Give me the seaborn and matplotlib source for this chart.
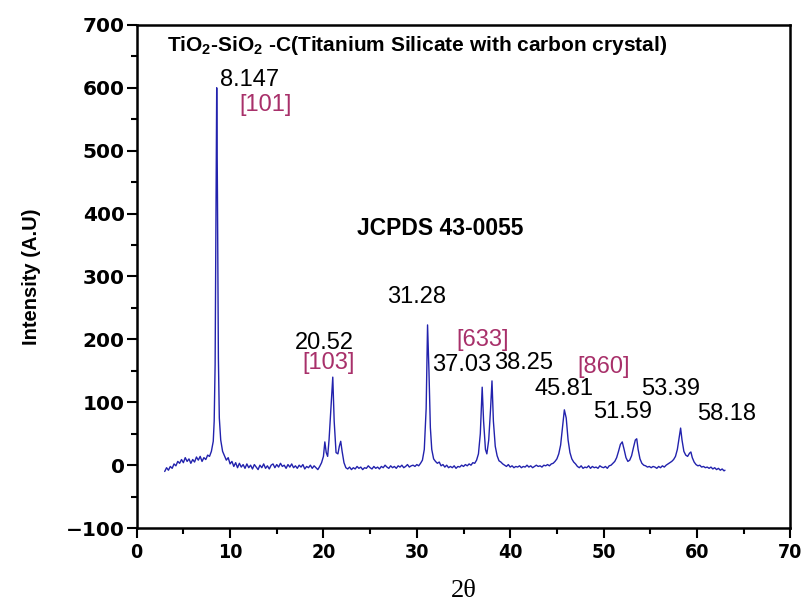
import matplotlib
matplotlib.use("Agg")
import matplotlib.pyplot as plt
import pandas as pd
import seaborn as sns
from matplotlib.ticker import MultipleLocator

# ---------------- data ----------------
two_theta = [
    3.0, 3.2, 3.4, 3.6, 3.8, 4.0, 4.2, 4.4, 4.6, 4.8, 5.0, 5.2, 5.4, 5.6, 5.8,
    6.0, 6.2, 6.4, 6.6, 6.8, 7.0, 7.2, 7.4, 7.6, 7.8, 8.0, 8.2, 8.3, 8.4, 8.5,
    8.57, 8.65, 8.75, 8.85, 9.0, 9.2, 9.4, 9.6, 9.8, 10.0, 10.2, 10.4, 10.6,
    10.8, 11.0, 11.2, 11.4, 11.6, 11.8, 12.0, 12.2, 12.4, 12.6, 12.8, 13.0,
    13.2, 13.4, 13.6, 13.8, 14.0, 14.2, 14.4, 14.6, 14.8, 15.0, 15.2, 15.4,
    15.6, 15.8, 16.0, 16.2, 16.4, 16.6, 16.8, 17.0, 17.2, 17.4, 17.6, 17.8,
    18.0, 18.2, 18.4, 18.6, 18.8, 19.0, 19.2, 19.4, 19.6, 19.8, 20.0, 20.15,
    20.3, 20.45, 20.6, 20.8, 21.0, 21.15, 21.35, 21.55, 21.7, 21.85, 22.0,
    22.2, 22.4, 22.6, 22.8, 23.0, 23.2, 23.4, 23.6, 23.8, 24.0, 24.2, 24.4,
    24.6, 24.8, 25.0, 25.2, 25.4, 25.6, 25.8, 26.0, 26.2, 26.4, 26.6, 26.8,
    27.0, 27.2, 27.4, 27.6, 27.8, 28.0, 28.2, 28.4, 28.6, 28.8, 29.0, 29.2,
    29.4, 29.6, 29.8, 30.0, 30.2, 30.4, 30.6, 30.8, 31.0, 31.15, 31.3, 31.45,
    31.6, 31.8, 32.0, 32.2, 32.4, 32.6, 32.8, 33.0, 33.2, 33.4, 33.6, 33.8,
    34.0, 34.2, 34.4, 34.6, 34.8, 35.0, 35.2, 35.4, 35.6, 35.8, 36.0, 36.2,
    36.4, 36.6, 36.8, 37.0, 37.15, 37.35, 37.5, 37.7, 37.9, 38.05, 38.2, 38.4,
    38.6, 38.8, 39.0, 39.2, 39.4, 39.6, 39.8, 40.0, 40.2, 40.4, 40.6, 40.8,
    41.0, 41.2, 41.4, 41.6, 41.8, 42.0, 42.2, 42.4, 42.6, 42.8, 43.0, 43.2,
    43.4, 43.6, 43.8, 44.0, 44.2, 44.4, 44.6, 44.8, 45.0, 45.2, 45.4, 45.6,
    45.8, 46.0, 46.2, 46.4, 46.6, 46.8, 47.0, 47.2, 47.4, 47.6, 47.8, 48.0,
    48.2, 48.4, 48.6, 48.8, 49.0, 49.2, 49.4, 49.6, 49.8, 50.0, 50.2, 50.4,
    50.6, 50.8, 51.0, 51.2, 51.4, 51.6, 51.8, 52.0, 52.2, 52.4, 52.6, 52.8,
    53.0, 53.2, 53.4, 53.55, 53.7, 53.9, 54.1, 54.3, 54.5, 54.7, 54.9, 55.1,
    55.3, 55.5, 55.7, 55.9, 56.1, 56.3, 56.5, 56.7, 56.9, 57.1, 57.3, 57.5,
    57.7, 57.9, 58.1, 58.25, 58.4, 58.6, 58.8, 59.0, 59.2, 59.35, 59.5, 59.7,
    59.9, 60.1, 60.3, 60.5, 60.7, 60.9, 61.1, 61.3, 61.5, 61.7, 61.9, 62.1,
    62.3, 62.5, 62.7, 62.9, 63.0,
]
intensity = [
    -10, -4, -8, -2, -5, 2, -1, 6, 3, 9, 4, 12, 6, 10, 3,
    9, 5, 13, 8, 14, 6, 12, 9, 16, 14, 22, 38, 70, 160, 420,
    600, 430, 170, 75, 40, 22, 15, 8, 12, 2, 6, -2, 4,
    -4, 3, -3, 1, -5, 2, -4, 0, -6, 1, -3, -7,
    0, -4, 2, -5, -1, -6, 0, 2, -4, 1, -3, 3,
    -2, 0, -5, 1, -3, 2, -4, -1, -5, 0, -3, 1,
    -6, -2, -4, 0, -5, -1, -4, -7, -2, 4, 14, 37,
    20, 14, 40, 90, 140, 70, 20, 18, 30, 38, 22,
    4, -4, -6, -3, -7, -4, -6, -2, -5, -3, -7, -4,
    -5, -1, -4, -6, -2, -5, -3, -6, -2, -4, 0, -3,
    -5, -1, -4, -2, -5, -1, -3, 0, -4, -2, 1, -3,
    -1, 0, -2, 1, -1, 3, 8, 25, 90, 223, 150, 60,
    25, 10, 6, 3, 5, -1, 1, -3, 0, -4, -2, -4,
    -1, -5, -2, -3, 0, -2, 1, -1, 2, 0, 4, 3,
    8, 18, 50, 124, 70, 25, 18, 40, 90, 134, 70, 30,
    15, 7, 5, 2, 0, -2, 1, -3, -1, -4, -2, -3,
    -1, -4, -2, -3, 0, -3, -1, -4, -2, 0, -2, -1,
    -3, 0, -1, 1, -1, 2, 3, 6, 10, 18, 32, 60,
    88, 75, 40, 20, 10, 5, 2, -2, -4, -1, -5, -3,
    -4, -1, -5, -2, -4, -3, -5, -1, -3, -4, -2, -5,
    -1, 0, 3, 6, 12, 22, 33, 37, 25, 12, 6, 8,
    15, 28, 40, 42, 25, 10, 3, 0, -1, -3, -2, -4,
    -2, -3, -5, -2, -4, -1, -3, 0, 2, 4, 6, 9,
    14, 25, 45, 59, 40, 22, 16, 14, 19, 21, 12, 5,
    1, -1, 0, -3, -2, -4, -3, -5, -3, -6, -4, -7,
    -5, -8, -6, -9, -8,
]

peak_labels = ["8.147", "20.52", "31.28", "37.03", "38.25",
               "45.81", "51.59", "53.39", "58.18"]
plane_labels = ["[101]", "[103]", "[633]", "[860]"]
title_text = (r"TiO$_{\mathbf{2}}$-SiO$_{\mathbf{2}}$ -C(Titanium Silicate "
              r"with carbon crystal)")
ref_text = "JCPDS 43-0055"
x_label = "2θ"
y_label = "Intensity (A.U)"

# ---------------- layout ----------------
peak_pos = [(8.9, 612, "left"), (20.15, 194, "center"), (30.0, 267, "center"),
            (34.8, 159, "center"), (41.4, 162, "center"), (45.8, 121, "center"),
            (52.0, 84, "center"), (57.2, 121, "center"), (63.2, 81, "center")]
plane_pos = [(11.05, 572, "left"), (20.6, 162, "center"),
             (37.0, 199, "center"), (50.0, 156, "center")]

sns.set_theme(style="ticks")
plt.rcParams["font.family"] = ["Liberation Sans", "DejaVu Sans"]
plt.rcParams["mathtext.fontset"] = "custom"
plt.rcParams["mathtext.bf"] = "Liberation Sans:bold"
plt.rcParams["mathtext.rm"] = "Liberation Sans:bold"

fig, ax = plt.subplots(figsize=(8.04, 6.07), dpi=100)
fig.patch.set_facecolor("white")
fig.subplots_adjust(left=0.170, right=0.983, top=0.959, bottom=0.130)

df = pd.DataFrame({"two_theta": two_theta, "intensity": intensity})
sns.lineplot(data=df, x="two_theta", y="intensity", ax=ax, color="#2222ad",
             linewidth=1.0, estimator=None, sort=False)

ax.set_xlim(0, 70)
ax.set_ylim(-100, 700)
ax.xaxis.set_major_locator(MultipleLocator(10))
ax.xaxis.set_minor_locator(MultipleLocator(5))
ax.yaxis.set_major_locator(MultipleLocator(100))
ax.yaxis.set_minor_locator(MultipleLocator(50))
for sp in ax.spines.values():
    sp.set_visible(True)
    sp.set_linewidth(1.8)
    sp.set_color("black")
ax.tick_params(which="major", direction="out", length=7, width=1.5,
               color="black", top=False, right=False)
ax.tick_params(which="minor", direction="out", length=4, width=1.5,
               color="black", top=False, right=False)
ax.tick_params(axis="y", which="major", pad=1.5)
ax.tick_params(axis="x", which="major", pad=4)
for lab in ax.get_yticklabels():
    lab.set_family(["DejaVu Sans"])
    lab.set_fontweight("bold")
    lab.set_fontsize(14.5)
    lab.set_color("black")
for lab in ax.get_xticklabels():
    lab.set_family(["DejaVu Sans"])
    lab.set_fontweight("bold")
    lab.set_fontstretch("condensed")
    lab.set_fontsize(14)
    lab.set_color("black")

ax.set_xlabel(x_label, family=["Liberation Serif", "DejaVu Serif"],
              fontsize=19, color="black", labelpad=13)
ax.set_ylabel(y_label, family=["Liberation Sans", "DejaVu Sans"],
              fontweight="bold", fontsize=14.5, color="black", labelpad=18)

ax.text(3.2, 668, title_text, fontsize=15, fontweight="bold", color="black",
        ha="left", va="center")
ax.text(23.6, 377, ref_text, fontsize=16.5, fontweight="bold", color="black",
        ha="left", va="center")

for txt, (x, y, ha) in zip(peak_labels, peak_pos):
    ax.text(x, y, txt, fontsize=17, color="black", ha=ha, va="center")
for txt, (x, y, ha) in zip(plane_labels, plane_pos):
    ax.text(x, y, txt, fontsize=17, color="#a8306a", ha=ha, va="center")

fig.savefig("out.png", dpi=100, facecolor="white")
